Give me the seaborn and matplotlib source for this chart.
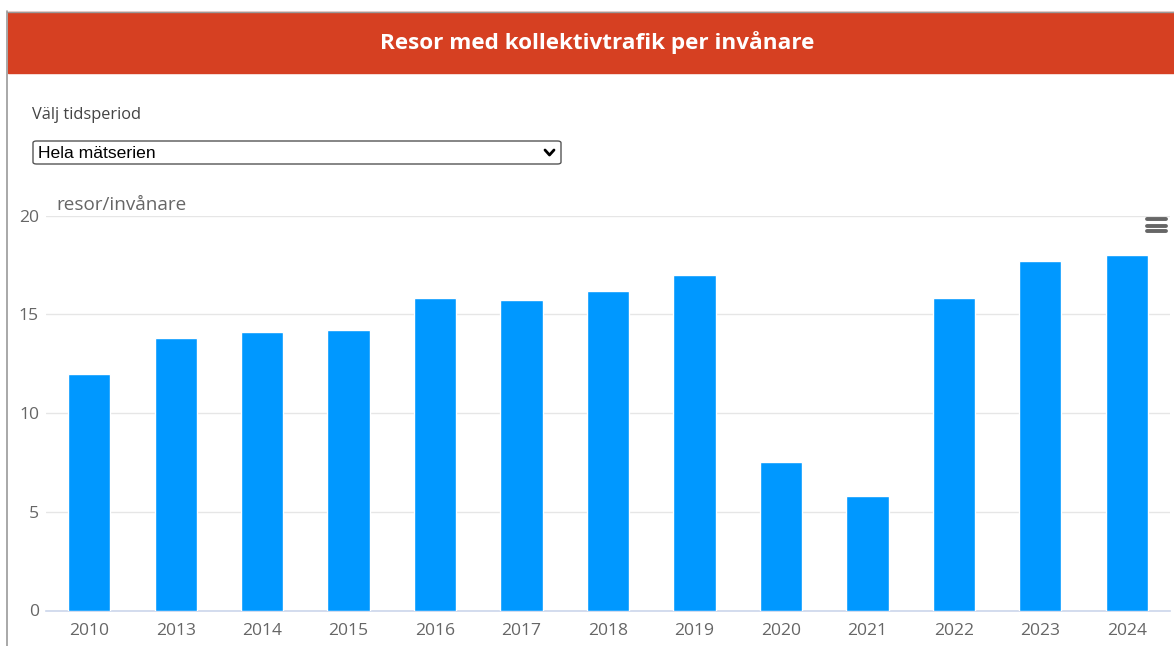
import numpy as np
import pandas as pd
import seaborn as sns
import matplotlib.pyplot as plt
from matplotlib.patches import Rectangle, FancyBboxPatch
from matplotlib.lines import Line2D

# ── Data ──────────────────────────────────────────────────────────────────────
years = ["2010", "2013", "2014", "2015", "2016", "2017", "2018",
         "2019", "2020", "2021", "2022", "2023", "2024"]
trips_per_resident = [12.0, 13.8, 14.1, 14.2, 15.8, 15.7, 16.2,
                      17.0, 7.5, 5.8, 15.8, 17.7, 18.0]
y_ticks = [0, 5, 10, 15, 20]

df = pd.DataFrame({"year": years, "value": trips_per_resident})

# ── Style ─────────────────────────────────────────────────────────────────────
sns.set_theme(style="white")
plt.rcParams["font.family"] = ["Open Sans", "DejaVu Sans"]

W, H = 1174, 646
fig = plt.figure(figsize=(W / 100, H / 100), dpi=100)

def fx(px):
    return px / W

def fy(py):
    return 1 - py / H

# ── Page frame + header ───────────────────────────────────────────────────────
fig.add_artist(Line2D([fx(7), fx(7)], [fy(11), 0], color="#9a9a9a", lw=1.2))
fig.add_artist(Line2D([fx(7), 1], [fy(11.5), fy(11.5)], color="#9a9a9a", lw=1))
fig.add_artist(Rectangle((fx(8), fy(73)), 1 - fx(8), fy(12) - fy(73),
                         color="#d64022", transform=fig.transFigure, zorder=0))
fig.text(fx(597), fy(43), "Resor med kollektivtrafik per invånare",
         color="white", fontsize=16.2, fontweight="bold",
         ha="center", va="center")

# ── Period selector ───────────────────────────────────────────────────────────
fig.text(fx(32), fy(115), "Välj tidsperiod", color="#444444",
         fontsize=11.8, ha="left", va="center")
fig.add_artist(FancyBboxPatch((fx(33), fy(164)), fx(528), fy(141) - fy(164),
                              boxstyle="round,pad=0,rounding_size=0.003",
                              facecolor="white", edgecolor="#555555", lw=1,
                              transform=fig.transFigure))
fig.text(fx(38), fy(153), "Hela mätserien", color="black",
         fontsize=12.6, ha="left", va="center", family="Liberation Sans")
fig.add_artist(Line2D([fx(545), fx(549.5), fx(554)], [fy(150), fy(155), fy(150)],
                      color="black", lw=2, solid_capstyle="round"))

# ── Chart ─────────────────────────────────────────────────────────────────────
ax = fig.add_axes([fx(46), fy(610.5), fx(1170) - fx(46), fy(215.5) - fy(610.5)])
sns.barplot(data=df, x="year", y="value", color="#0098ff", saturation=1,
            width=0.49, ax=ax, zorder=3)
ax.set_ylim(0, 20)
ax.set_xlim(-0.5, len(years) - 0.5)
ax.set_yticks(y_ticks)
ax.yaxis.grid(True, color="#e6e6e6", lw=1, zorder=0)
ax.set_axisbelow(True)
for s in ["top", "right", "left"]:
    ax.spines[s].set_visible(False)
ax.spines["bottom"].set_color("#ccd6eb")
ax.spines["bottom"].set_linewidth(1.2)
ax.set_xlabel("")
ax.set_ylabel("")
ax.tick_params(axis="x", length=0, pad=9, labelsize=12.6, labelcolor="#666666")
ax.tick_params(axis="y", length=0, pad=5, labelsize=12.6, labelcolor="#666666")
ax.text(fx(57) - fx(46), 1.0 + (fy(205) - fy(215.5)) / (fy(215.5) - fy(610.5)),
        "resor/invånare", transform=ax.transAxes, color="#666666",
        fontsize=13.6, ha="left", va="center")

# hamburger menu icon
for yy in [219.5, 225.5, 231.5]:
    fig.add_artist(Line2D([fx(1147), fx(1166)], [fy(yy), fy(yy)],
                          color="#666666", lw=2.8, solid_capstyle="round"))

plt.savefig("out.png", dpi=100)
